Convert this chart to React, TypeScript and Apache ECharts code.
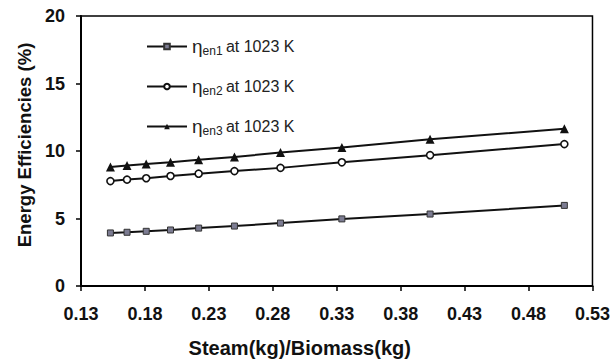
import React, { useEffect, useRef } from "react";
import * as echarts from "echarts";

// Steam(kg)/Biomass(kg) ratios
const ratios = [0.153, 0.166, 0.181, 0.2, 0.222, 0.25, 0.286, 0.334, 0.403, 0.508];
// Energy efficiencies (%)
const etaEn1 = [3.93, 3.98, 4.05, 4.15, 4.29, 4.44, 4.66, 4.97, 5.33, 5.97];
const etaEn2 = [7.77, 7.88, 7.98, 8.15, 8.32, 8.51, 8.75, 9.16, 9.69, 10.51];
const etaEn3 = [8.82, 8.92, 9.04, 9.16, 9.36, 9.56, 9.88, 10.26, 10.87, 11.64];
const seriesNames = ["en1", "en2", "en3"];
const xTickLabels = ["0.13", "0.18", "0.23", "0.28", "0.33", "0.38", "0.43", "0.48", "0.53"];
const yTickLabels = ["0", "5", "10", "15", "20"];
const X_START = 0.13;
const X_STEP = 0.05;

export default function App() {
  const ref = useRef<HTMLDivElement>(null);
  useEffect(() => {
    if (!ref.current) return;
    const chart = echarts.init(ref.current, null, { renderer: "svg" });
    const pairs = (ys: number[]) => ratios.map((x, i) => [+(x - X_START).toFixed(4), ys[i]]);
    const font = "Liberation Sans, Arial, sans-serif";
    chart.setOption({
      animation: false,
      backgroundColor: "#fff",
      grid: {
        left: 81,
        right: 20,
        top: 16,
        bottom: 70,
        show: true,
        borderColor: "#000",
        borderWidth: 1.5,
        backgroundColor: "transparent",
      },
      legend: {
        orient: "vertical",
        left: 141,
        top: 32,
        itemWidth: 40,
        itemHeight: 7,
        itemGap: 20,
        data: seriesNames.map((n) => ({ name: n })),
        formatter: (name: string) => `{eta|η}{sub|${name}} {txt|at 1023 K}`,
        textStyle: {
          fontFamily: font,
          color: "#222",
          rich: {
            eta: { fontSize: 19, fontFamily: font, color: "#222" },
            sub: { fontSize: 12, fontFamily: font, color: "#222", padding: [9, 0, 0, 0] },
            txt: { fontSize: 16, fontFamily: font, color: "#222" },
          },
        },
      },
      xAxis: {
        type: "value",
        min: 0,
        max: +(X_STEP * (xTickLabels.length - 1)).toFixed(2),
        interval: X_STEP,
        name: "Steam(kg)/Biomass(kg)",
        nameLocation: "middle",
        nameGap: 52,
        nameTextStyle: {
          fontFamily: font,
          fontWeight: "bold",
          fontSize: 20,
          color: "#111",
          padding: [0, 74, 0, 0],
        },
        axisLine: { show: true, lineStyle: { color: "#000", width: 2 } },
        axisTick: { show: true, inside: false, length: 5, lineStyle: { color: "#000", width: 1.5 } },
        axisLabel: {
          margin: 19,
          fontFamily: font,
          fontWeight: "bold",
          fontSize: 18,
          color: "#111",
          formatter: (_v: number, i: number) => xTickLabels[i],
        },
        splitLine: { show: false },
      },
      yAxis: {
        type: "value",
        min: 0,
        max: 20,
        interval: 5,
        name: "Energy Efficiencies (%)",
        nameLocation: "middle",
        nameGap: 46,
        nameTextStyle: {
          fontFamily: font,
          fontWeight: "bold",
          fontSize: 18.5,
          color: "#111",
          padding: [0, 0, 0, 12],
        },
        axisLine: { show: true, lineStyle: { color: "#000", width: 2 } },
        axisTick: { show: true, inside: false, length: 5, lineStyle: { color: "#000", width: 1.5 } },
        axisLabel: {
          margin: 16,
          fontFamily: font,
          fontWeight: "bold",
          fontSize: 18,
          color: "#111",
          formatter: (_v: number, i: number) => yTickLabels[i],
        },
        splitLine: { show: false },
      },
      series: [
        {
          name: seriesNames[0],
          type: "line",
          data: pairs(etaEn1),
          symbol: "rect",
          symbolSize: 6,
          lineStyle: { color: "#111", width: 2 },
          itemStyle: { color: "#7c7c92", borderColor: "#333", borderWidth: 1 },
        },
        {
          name: seriesNames[1],
          type: "line",
          data: pairs(etaEn2),
          symbol: "circle",
          symbolSize: 7,
          lineStyle: { color: "#111", width: 2 },
          itemStyle: { color: "#fff", borderColor: "#111", borderWidth: 1.6 },
        },
        {
          name: seriesNames[2],
          type: "line",
          data: pairs(etaEn3),
          symbol: "triangle",
          symbolSize: 9,
          lineStyle: { color: "#111", width: 2 },
          itemStyle: { color: "#111", borderColor: "#111", borderWidth: 0 },
        },
      ],
    });
    return () => chart.dispose();
  }, []);
  return <div ref={ref} style={{ width: 613, height: 363, position: "absolute", left: 0, top: 0 }} />;
}
